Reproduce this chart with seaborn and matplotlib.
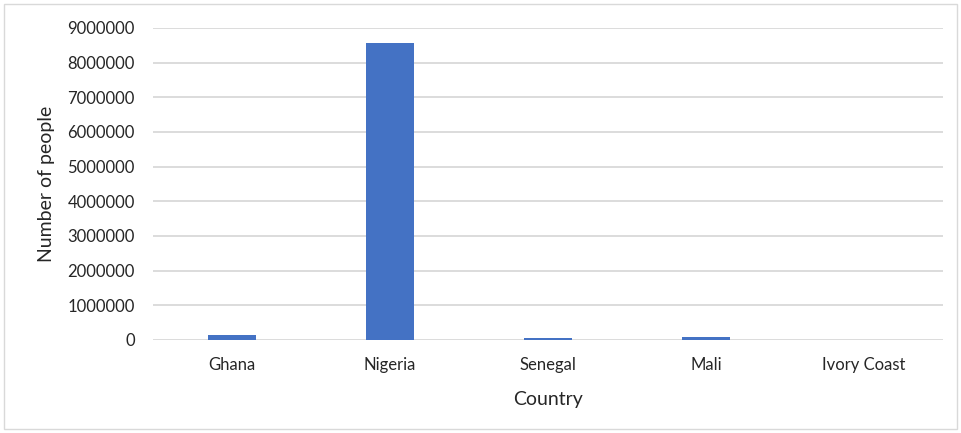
import matplotlib
matplotlib.use("Agg")
import matplotlib.pyplot as plt
import seaborn as sns
import pandas as pd
from matplotlib.patches import Rectangle
from matplotlib.ticker import MultipleLocator, FuncFormatter

countries = ["Ghana", "Nigeria", "Senegal", "Mali", "Ivory Coast"]
people = [153000, 8560000, 58000, 87000, 5000]

df = pd.DataFrame({"Country": countries, "Number of people": people})

sns.set_theme(style="white")
plt.rcParams["font.family"] = ["Lato", "DejaVu Sans"]

fig = plt.figure(figsize=(9.61, 4.33), dpi=100)
ax = fig.add_axes([153 / 961, 1 - 340 / 433, (943 - 153) / 961, (340 - 28) / 433])

sns.barplot(data=df, x="Country", y="Number of people", color="#4472C4",
            saturation=1, width=0.31, linewidth=0, ax=ax, zorder=3)

ax.set_ylim(0, 9000000)
ax.set_xlim(-0.5, len(countries) - 0.5)
ax.yaxis.set_major_locator(MultipleLocator(1000000))
ax.yaxis.set_major_formatter(FuncFormatter(lambda v, p: f"{int(v)}"))
ax.grid(axis="y", color="#D9D9D9", linewidth=1.3, zorder=0)
ax.grid(axis="x", visible=False)
for s in ax.spines.values():
    s.set_visible(False)
ax.tick_params(axis="both", length=0, labelsize=12, colors="#262626")
ax.tick_params(axis="x", pad=12)
ax.tick_params(axis="y", pad=13)
ax.set_xlabel("Country", fontsize=14, color="#262626", labelpad=13)
ax.set_ylabel("Number of people", fontsize=14, color="#262626", labelpad=9)

fig.patches.append(Rectangle((4 / 961, 4 / 433), 953 / 961, 425 / 433,
                             transform=fig.transFigure, fill=False,
                             edgecolor="#D9D9D9", linewidth=1))

fig.savefig("out.png", dpi=100, facecolor="white")
